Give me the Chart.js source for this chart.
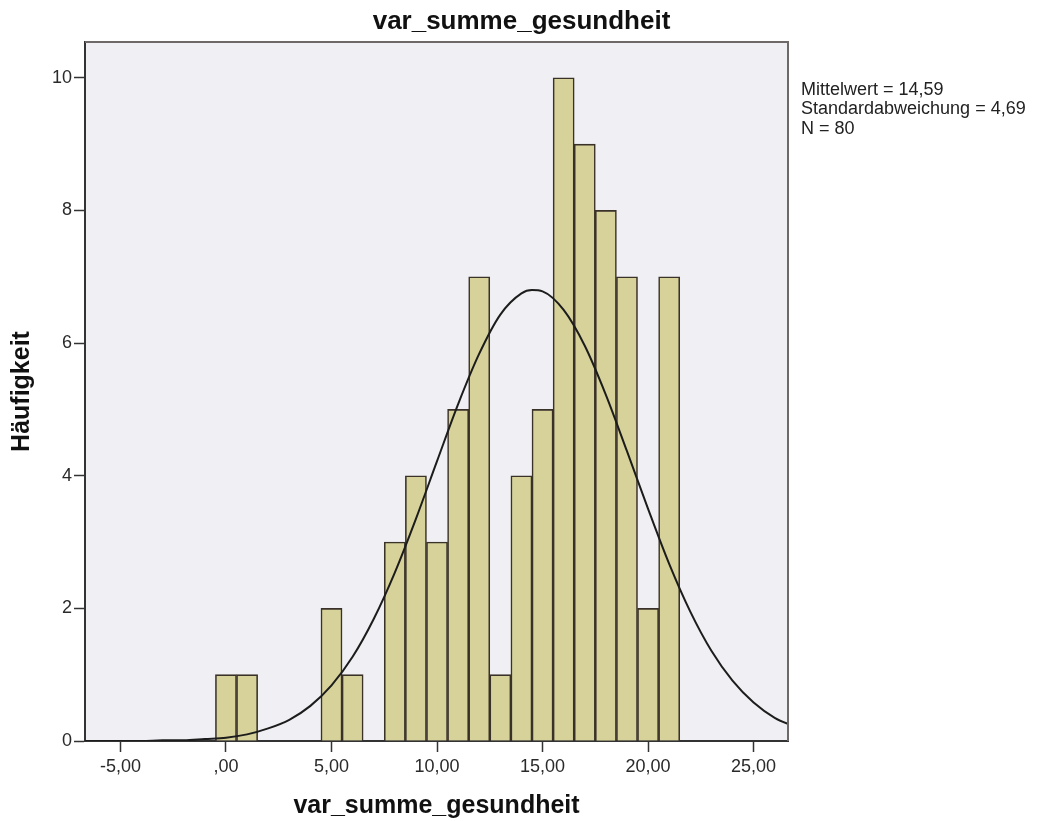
<!DOCTYPE html>
<html>
<head>
<meta charset="utf-8">
<script src="https://cdn.jsdelivr.net/npm/chart.js@4"></script>
<style>
    body { margin: 0; background: #fff; }
    #wrap { width: 1043px; height: 821px; }
</style>
</head>
<body>
<div id="wrap"><canvas id="histograma" width="1043" height="821"></canvas></div>
<script>
// Datos
const klassen = [0, 1, 5, 6, 8, 9, 10, 11, 12, 13, 14, 15, 16, 17, 18, 19, 20, 21];
const haeufigkeit = [1, 1, 2, 1, 3, 4, 3, 5, 7, 1, 4, 5, 10, 9, 8, 7, 2, 7];

// Normalverteilungskurve
const kurveX = [-7, -6, -5, -4, -3, -2, -1, 0, 1, 2, 3, 4, 5, 6, 7, 8, 9, 10, 11, 12, 13, 14, 14.5, 15, 16, 17, 18, 19, 20, 21, 22, 23, 24, 25, 26, 27];
const kurveY = [0.00, 0.00, 0.00, 0.00, 0.01, 0.01, 0.03, 0.05, 0.10, 0.19, 0.32, 0.53, 0.84, 1.27, 1.84, 2.54, 3.35, 4.22, 5.08, 5.84, 6.43, 6.75, 6.80, 6.78, 6.50, 5.96, 5.22, 4.37, 3.50, 2.67, 1.95, 1.36, 0.91, 0.58, 0.35, 0.21];

const xTicks = [-5, 0, 5, 10, 15, 20, 25];
const xTickLabels = ['-5,00', ',00', '5,00', '10,00', '15,00', '20,00', '25,00'];
const yTicks = [0, 2, 4, 6, 8, 10];

const titel = 'var_summe_gesundheit';
const statistik = ['Mittelwert = 14,59', 'Standardabweichung = 4,69', 'N = 80'];

document.addEventListener("DOMContentLoaded", () => {
    Chart.defaults.font.family = "'Liberation Sans', Arial, sans-serif";
    Chart.defaults.color = '#2a2a2a';

    // ================== HINTERGRUND + RAHMEN + TEXTE ==================
    const rahmen = {
        id: 'rahmen',
        beforeDraw(chart) {
            const { ctx, chartArea: a } = chart;
            ctx.save();
            ctx.fillStyle = '#f0f0f4';
            ctx.fillRect(a.left, a.top, a.right - a.left, a.bottom - a.top);
            ctx.restore();
        },
        afterDraw(chart) {
            const { ctx, chartArea: a } = chart;
            ctx.save();
            ctx.strokeStyle = '#6f6868';
            ctx.lineWidth = 2;
            ctx.beginPath();
            ctx.moveTo(a.left, a.top);
            ctx.lineTo(a.right, a.top);
            ctx.lineTo(a.right, a.bottom);
            ctx.stroke();
            // Titel
            ctx.fillStyle = '#111';
            ctx.font = "bold 26px 'Liberation Sans', Arial, sans-serif";
            ctx.textAlign = 'center';
            ctx.textBaseline = 'alphabetic';
            ctx.fillText(titel, chart.width / 2, 29);
            // Kennwerte rechts
            ctx.fillStyle = '#222';
            ctx.font = "18px 'Liberation Sans', Arial, sans-serif";
            ctx.textAlign = 'left';
            ctx.textBaseline = 'middle';
            statistik.forEach((t, i) => ctx.fillText(t, a.right + 13, 90 + i * 19.5));
            ctx.restore();
        }
    };

    new Chart(document.getElementById('histograma'), {
        type: 'bar',
        data: {
            datasets: [{
                type: 'line',
                data: kurveX.map((x, i) => ({ x: x, y: kurveY[i] })),
                borderColor: '#1c1c1c',
                borderWidth: 2,
                pointRadius: 0,
                cubicInterpolationMode: 'monotone',
                order: 0
            }, {
                data: klassen.map((x, i) => ({ x: x, y: haeufigkeit[i] })),
                backgroundColor: '#d6d29a',
                borderColor: '#3a3128',
                borderWidth: 1.6,
                barPercentage: 1,
                categoryPercentage: 1,
                order: 1
            }]
        },
        options: {
            responsive: false,
            animation: false,
            layout: { padding: { left: 0, right: 255, top: 42, bottom: 0 } },
            plugins: {
                legend: { display: false },
                tooltip: { enabled: false }
            },
            scales: {
                x: {
                    type: 'linear',
                    offset: false,
                    min: -6.68,
                    max: 26.63,
                    afterFit: s => { s.height = 80; },
                    afterBuildTicks: s => { s.ticks = xTicks.map(v => ({ value: v })); },
                    grid: { offset: false, drawOnChartArea: false, tickLength: 11, tickColor: '#333', tickWidth: 1.5 },
                    border: { color: '#333', width: 2 },
                    ticks: {
                        font: { size: 18 },
                        padding: 4,
                        maxRotation: 0,
                        callback: v => xTickLabels[xTicks.indexOf(v)]
                    },
                    title: {
                        display: true,
                        text: titel,
                        color: '#111',
                        font: { size: 25, weight: 'bold' },
                        padding: 0
                    }
                },
                y: {
                    min: 0,
                    max: 10.54,
                    afterFit: s => { s.width = 85; },
                    afterBuildTicks: s => { s.ticks = yTicks.map(v => ({ value: v })); },
                    grid: { drawOnChartArea: false, tickLength: 11, tickColor: '#333', tickWidth: 1.5 },
                    border: { color: '#333', width: 2 },
                    ticks: { font: { size: 18 }, padding: 2 },
                    title: {
                        display: true,
                        text: 'Häufigkeit',
                        color: '#111',
                        font: { size: 25, weight: 'bold' },
                        padding: { top: 7, bottom: 0 }
                    }
                }
            }
        },
        plugins: [rahmen]
    });
});
</script>
</body>
</html>
